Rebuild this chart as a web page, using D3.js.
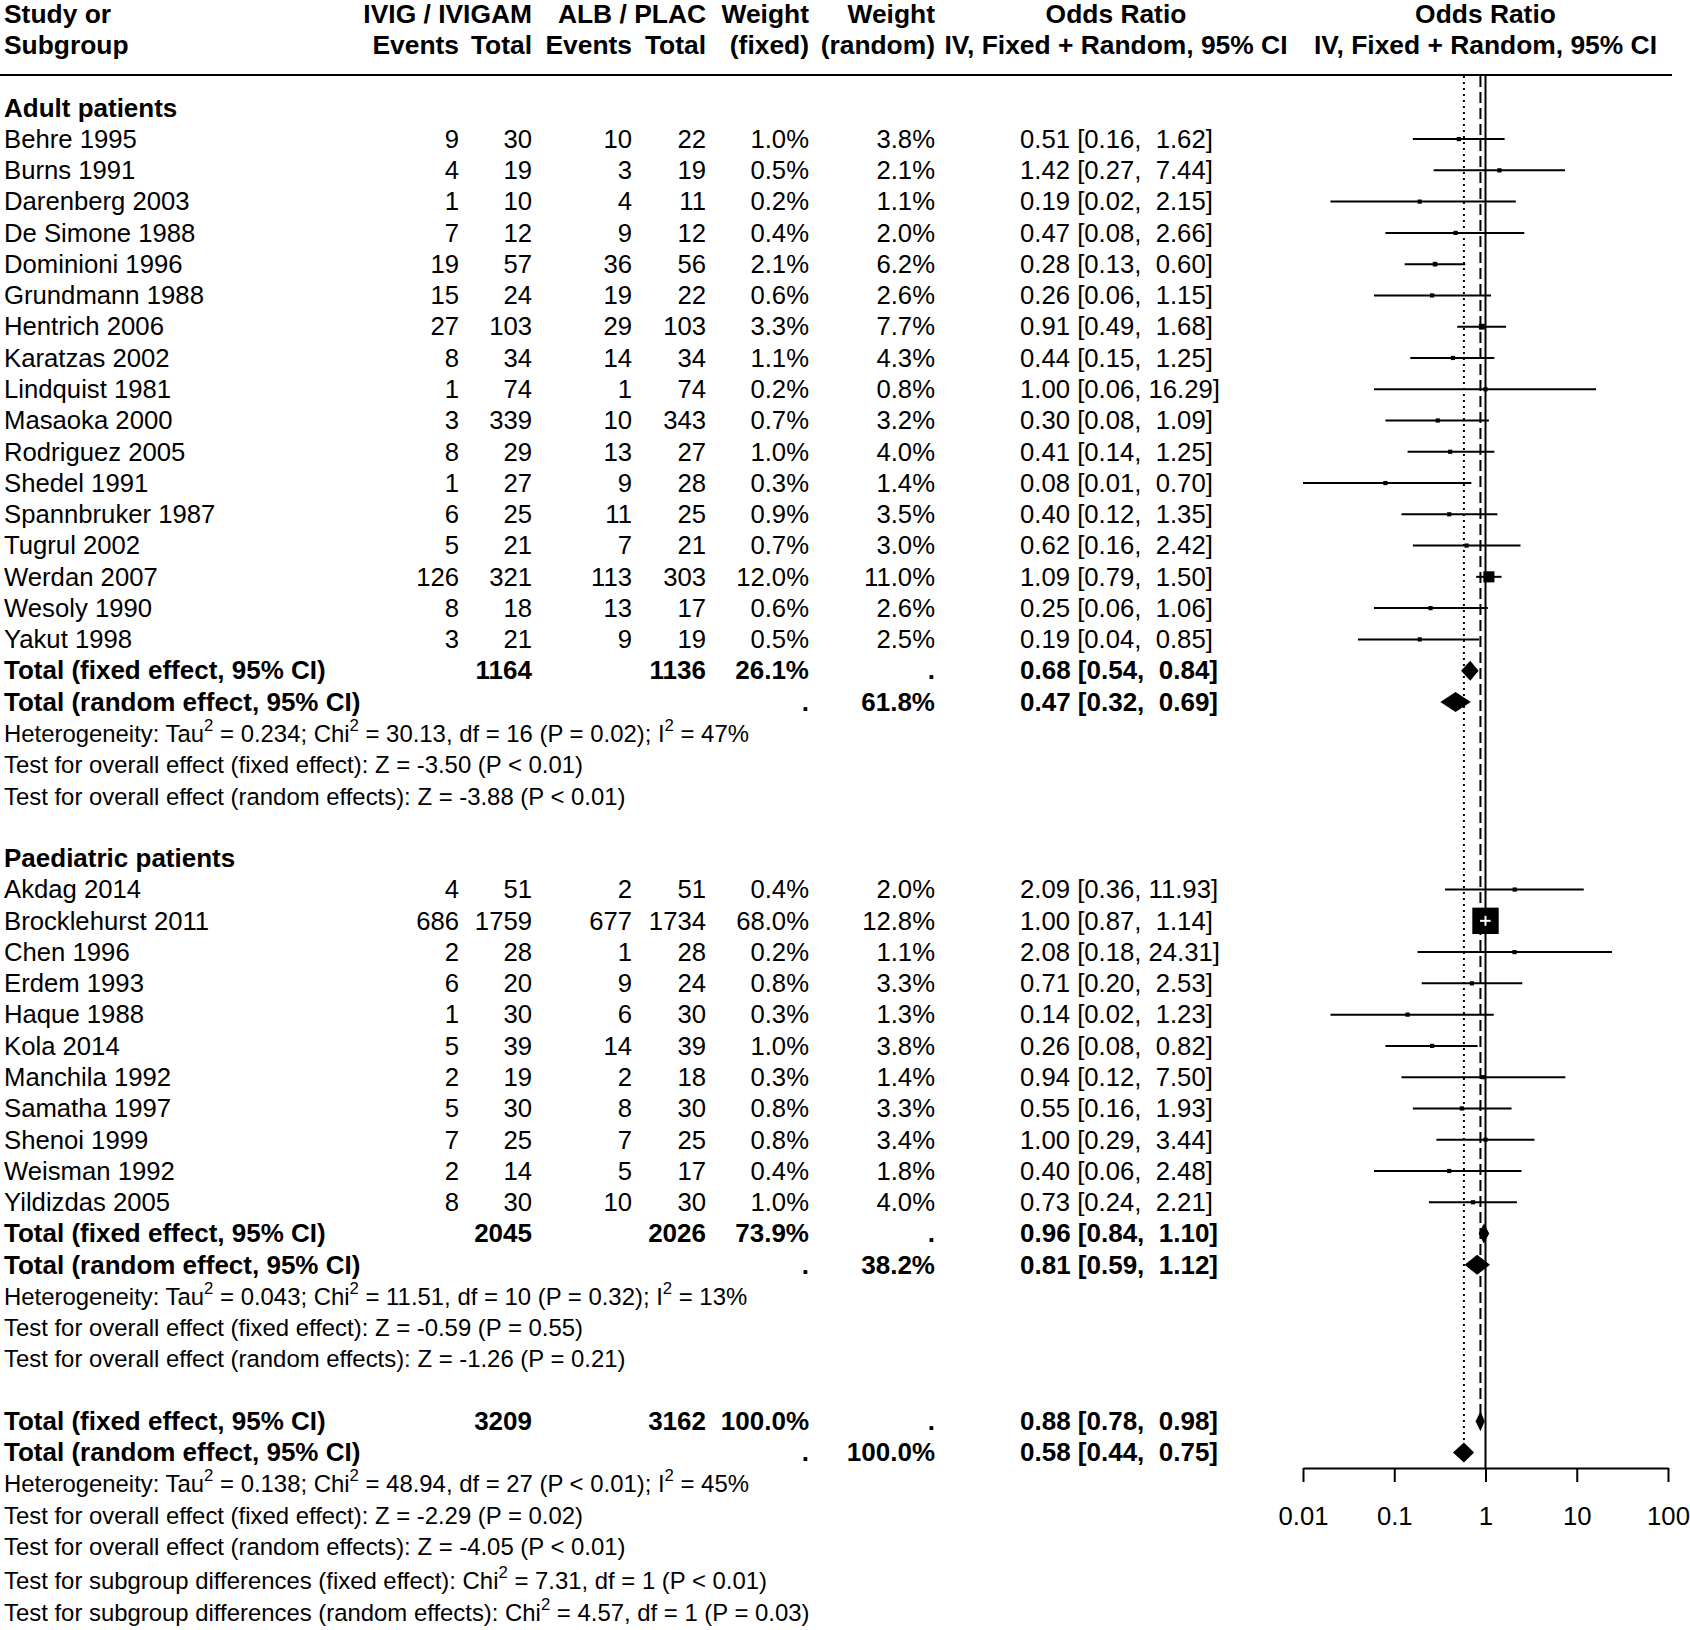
<!DOCTYPE html>
<html><head><meta charset="utf-8">
<script src="https://cdn.jsdelivr.net/npm/d3@7/dist/d3.min.js"></script>
<style>
html,body{margin:0;padding:0;background:#fff;}
text{font-family:"Liberation Sans",Arial,sans-serif;fill:#000;white-space:pre;}
</style></head>
<body>
<svg id="chart" width="1690" height="1630"></svg>
<script>
// ---------------- DATA ----------------
const adultStudies = ["Behre 1995","Burns 1991","Darenberg 2003","De Simone 1988","Dominioni 1996","Grundmann 1988","Hentrich 2006","Karatzas 2002","Lindquist 1981","Masaoka 2000","Rodriguez 2005","Shedel 1991","Spannbruker 1987","Tugrul 2002","Werdan 2007","Wesoly 1990","Yakut 1998"];
const adultEventsE = [9,4,1,7,19,15,27,8,1,3,8,1,6,5,126,8,3];
const adultTotalE  = [30,19,10,12,57,24,103,34,74,339,29,27,25,21,321,18,21];
const adultEventsC = [10,3,4,9,36,19,29,14,1,10,13,9,11,7,113,13,9];
const adultTotalC  = [22,19,11,12,56,22,103,34,74,343,27,28,25,21,303,17,19];
const adultWFixed  = [1.0,0.5,0.2,0.4,2.1,0.6,3.3,1.1,0.2,0.7,1.0,0.3,0.9,0.7,12.0,0.6,0.5];
const adultWRandom = [3.8,2.1,1.1,2.0,6.2,2.6,7.7,4.3,0.8,3.2,4.0,1.4,3.5,3.0,11.0,2.6,2.5];
const adultOR = [0.51,1.42,0.19,0.47,0.28,0.26,0.91,0.44,1.00,0.30,0.41,0.08,0.40,0.62,1.09,0.25,0.19];
const adultLo = [0.16,0.27,0.02,0.08,0.13,0.06,0.49,0.15,0.06,0.08,0.14,0.01,0.12,0.16,0.79,0.06,0.04];
const adultHi = [1.62,7.44,2.15,2.66,0.60,1.15,1.68,1.25,16.29,1.09,1.25,0.70,1.35,2.42,1.50,1.06,0.85];

const paedStudies = ["Akdag 2014","Brocklehurst 2011","Chen 1996","Erdem 1993","Haque 1988","Kola 2014","Manchila 1992","Samatha 1997","Shenoi 1999","Weisman 1992","Yildizdas 2005"];
const paedEventsE = [4,686,2,6,1,5,2,5,7,2,8];
const paedTotalE  = [51,1759,28,20,30,39,19,30,25,14,30];
const paedEventsC = [2,677,1,9,6,14,2,8,7,5,10];
const paedTotalC  = [51,1734,28,24,30,39,18,30,25,17,30];
const paedWFixed  = [0.4,68.0,0.2,0.8,0.3,1.0,0.3,0.8,0.8,0.4,1.0];
const paedWRandom = [2.0,12.8,1.1,3.3,1.3,3.8,1.4,3.3,3.4,1.8,4.0];
const paedOR = [2.09,1.00,2.08,0.71,0.14,0.26,0.94,0.55,1.00,0.40,0.73];
const paedLo = [0.36,0.87,0.18,0.20,0.02,0.08,0.12,0.16,0.29,0.06,0.24];
const paedHi = [11.93,1.14,24.31,2.53,1.23,0.82,7.50,1.93,3.44,2.48,2.21];

// summaries: [totalE, totalC, weightFixed, weightRandom, fixedOR, fixedLo, fixedHi, randomOR, randomLo, randomHi]
const adultSummary   = [1164,1136,"26.1%","61.8%",0.68,0.54,0.84,0.47,0.32,0.69];
const paedSummary    = [2045,2026,"73.9%","38.2%",0.96,0.84,1.10,0.81,0.59,1.12];
const overallSummary = [3209,3162,"100.0%","100.0%",0.88,0.78,0.98,0.58,0.44,0.75];

const adultFooter = ["Heterogeneity: Tau^2 = 0.234; Chi^2 = 30.13, df = 16 (P = 0.02); I^2 = 47%",
  "Test for overall effect (fixed effect): Z = -3.50 (P < 0.01)",
  "Test for overall effect (random effects): Z = -3.88 (P < 0.01)"];
const paedFooter = ["Heterogeneity: Tau^2 = 0.043; Chi^2 = 11.51, df = 10 (P = 0.32); I^2 = 13%",
  "Test for overall effect (fixed effect): Z = -0.59 (P = 0.55)",
  "Test for overall effect (random effects): Z = -1.26 (P = 0.21)"];
const overallFooter = ["Heterogeneity: Tau^2 = 0.138; Chi^2 = 48.94, df = 27 (P < 0.01); I^2 = 45%",
  "Test for overall effect (fixed effect): Z = -2.29 (P = 0.02)",
  "Test for overall effect (random effects): Z = -4.05 (P < 0.01)"];
const subgroupFooter = ["Test for subgroup differences (fixed effect): Chi^2 = 7.31, df = 1 (P < 0.01)",
  "Test for subgroup differences (random effects): Chi^2 = 4.57, df = 1 (P = 0.03)"];

const axisTicks = [0.01,0.1,1,10,100];
const axisTickLabels = ["0.01","0.1","1","10","100"];

// ---------------- LAYOUT ----------------
const svg = d3.select("#chart");
const FS = 25.7, FSB = 26, FSH = 26.4, FSF = 23.9;
const colX = {study:4, evE:459, totE:532, evC:632, totC:706, wF:809, wR:935, orText:1020, orHead:1116};
const x = d3.scaleLog().domain([0.01,100]).range([1303,1668]);
const rowY = d3.scaleLinear().domain([0,1]).range([107.8,107.8+31.27]);
const axisY = 1468;

function fmt2(v){ return v.toFixed(2); }
function orStr(o,l,h){ const hs = fmt2(h); return fmt2(o)+" ["+fmt2(l)+", "+(h>=10?"":" ")+hs+"]"; }

function txt(xp, i, s, opts={}){
  const fs = opts.fs || (opts.head?FSH:(opts.bold?FSB:FS));
  const t = svg.append("text")
    .attr("x", xp).attr("y", rowY(i) + (opts.dy||0) + 8.8)
    .attr("font-size", fs)
    .attr("font-weight", (opts.bold||opts.head)?"bold":"normal")
    .attr("text-anchor", opts.anchor||"start");
  if (s.indexOf("^2")>=0){
    const parts = s.split("^2");
    parts.forEach((p,k)=>{
      t.append("tspan").text(p).attr("dy", k===0?0:11);
      if(k<parts.length-1) t.append("tspan").text("2").attr("font-size",fs*0.7).attr("dy",-11);
    });
  } else t.text(s);
  return t;
}

// header
[["Study or",-3],["Subgroup",-2]].forEach(([s,i])=>txt(colX.study,i,s,{head:true}));
txt(colX.totE,-3,"IVIG / IVIGAM",{head:true,anchor:"end"});
txt(colX.totC,-3,"ALB / PLAC",{head:true,anchor:"end"});
txt(colX.evE,-2,"Events",{head:true,anchor:"end"});
txt(colX.totE,-2,"Total",{head:true,anchor:"end"});
txt(colX.evC,-2,"Events",{head:true,anchor:"end"});
txt(colX.totC,-2,"Total",{head:true,anchor:"end"});
txt(colX.wF,-3,"Weight",{head:true,anchor:"end"});
txt(colX.wF,-2,"(fixed)",{head:true,anchor:"end"});
txt(colX.wR,-3,"Weight",{head:true,anchor:"end"});
txt(colX.wR,-2,"(random)",{head:true,anchor:"end"});
txt(colX.orHead,-3,"Odds Ratio",{head:true,anchor:"middle"});
txt(colX.orHead,-2,"IV, Fixed + Random, 95% CI",{head:true,anchor:"middle"});
txt(x(1),-3,"Odds Ratio",{head:true,anchor:"middle"});
txt(x(1),-2,"IV, Fixed + Random, 95% CI",{head:true,anchor:"middle"});
svg.append("line").attr("x1",0).attr("x2",1672).attr("y1",75).attr("y2",75)
  .attr("stroke","#000").attr("stroke-width",2);

// reference lines
const topY = 76;
svg.append("line").attr("x1",x(1)).attr("x2",x(1)).attr("y1",topY).attr("y2",axisY)
  .attr("stroke","#000").attr("stroke-width",2);
svg.append("line").attr("x1",x(overallSummary[4])).attr("x2",x(overallSummary[4]))
  .attr("y1",topY).attr("y2",rowY(42)).attr("stroke","#000").attr("stroke-width",2)
  .attr("stroke-dasharray","11,5");
svg.append("line").attr("x1",x(overallSummary[7])).attr("x2",x(overallSummary[7]))
  .attr("y1",topY).attr("y2",rowY(43)-10).attr("stroke","#000").attr("stroke-width",2)
  .attr("stroke-dasharray","2,4");

const plot = svg.append("g");

function studyBlock(start, names, eE, tE, eC, tC, wF, wR, or, lo, hi){
  names.forEach((n,k)=>{
    const i = start+k;
    txt(colX.study,i,n);
    txt(colX.evE,i,String(eE[k]),{anchor:"end"});
    txt(colX.totE,i,String(tE[k]),{anchor:"end"});
    txt(colX.evC,i,String(eC[k]),{anchor:"end"});
    txt(colX.totC,i,String(tC[k]),{anchor:"end"});
    txt(colX.wF,i,wF[k].toFixed(1)+"%",{anchor:"end"});
    txt(colX.wR,i,wR[k].toFixed(1)+"%",{anchor:"end"});
    txt(colX.orText,i,orStr(or[k],lo[k],hi[k]));
    const yy = rowY(i);
    plot.append("line").attr("x1",x(lo[k])).attr("x2",x(hi[k])).attr("y1",yy).attr("y2",yy)
      .attr("stroke","#000").attr("stroke-width",2);
    const side = Math.max(3.2*Math.sqrt(wF[k]),4.2);
    plot.append("rect").attr("x",x(or[k])-side/2).attr("y",yy-side/2)
      .attr("width",side).attr("height",side).attr("fill","#000");
    if (x(hi[k])-x(lo[k]) < side){
      plot.append("line").attr("x1",x(lo[k])).attr("x2",x(hi[k])).attr("y1",yy).attr("y2",yy)
        .attr("stroke","#fff").attr("stroke-width",2);
      plot.append("line").attr("x1",x(or[k])).attr("x2",x(or[k])).attr("y1",yy-5).attr("y2",yy+5)
        .attr("stroke","#fff").attr("stroke-width",2);
    }
  });
}
function diamond(i, est, lo, hi){
  const yy = rowY(i);
  plot.append("path").attr("d",`M${x(lo)},${yy}L${x(est)},${yy-10}L${x(hi)},${yy}L${x(est)},${yy+10}Z`)
    .attr("fill","#000");
}
function summaryRows(i, s){
  txt(colX.study,i,"Total (fixed effect, 95% CI)",{bold:true});
  txt(colX.totE,i,String(s[0]),{anchor:"end",bold:true});
  txt(colX.totC,i,String(s[1]),{anchor:"end",bold:true});
  txt(colX.wF,i,s[2],{anchor:"end",bold:true});
  txt(colX.wR,i,".",{anchor:"end",bold:true});
  txt(colX.orText,i,orStr(s[4],s[5],s[6]),{bold:true});
  diamond(i,s[4],s[5],s[6]);
  txt(colX.study,i+1,"Total (random effect, 95% CI)",{bold:true});
  txt(colX.wF,i+1,".",{anchor:"end",bold:true});
  txt(colX.wR,i+1,s[3],{anchor:"end",bold:true});
  txt(colX.orText,i+1,orStr(s[7],s[8],s[9]),{bold:true});
  diamond(i+1,s[7],s[8],s[9]);
}
function footer(i, lines, extra){
  lines.forEach((l,k)=>txt(colX.study,i+k,l,{fs:FSF,dy:extra||0}));
}

txt(colX.study,0,"Adult patients",{bold:true});
studyBlock(1,adultStudies,adultEventsE,adultTotalE,adultEventsC,adultTotalC,adultWFixed,adultWRandom,adultOR,adultLo,adultHi);
summaryRows(18,adultSummary);
footer(20,adultFooter);

txt(colX.study,24,"Paediatric patients",{bold:true});
studyBlock(25,paedStudies,paedEventsE,paedTotalE,paedEventsC,paedTotalC,paedWFixed,paedWRandom,paedOR,paedLo,paedHi);
summaryRows(36,paedSummary);
footer(38,paedFooter);

summaryRows(42,overallSummary);
footer(44,overallFooter);
footer(47,subgroupFooter,3);

// axis
const axis = d3.axisBottom(x).tickValues(axisTicks)
  .tickFormat((d,i)=>axisTickLabels[i]).tickSize(14).tickSizeOuter(0).tickPadding(25);
const ag = svg.append("g").attr("transform",`translate(0,${axisY})`).call(axis);
ag.select(".domain").attr("stroke","#000").attr("stroke-width",2);
ag.selectAll(".tick line").attr("stroke","#000").attr("stroke-width",2);
ag.selectAll(".tick text").attr("font-size",FS).attr("font-family","Liberation Sans, Arial, sans-serif").attr("fill","#000");
</script>
</body></html>
